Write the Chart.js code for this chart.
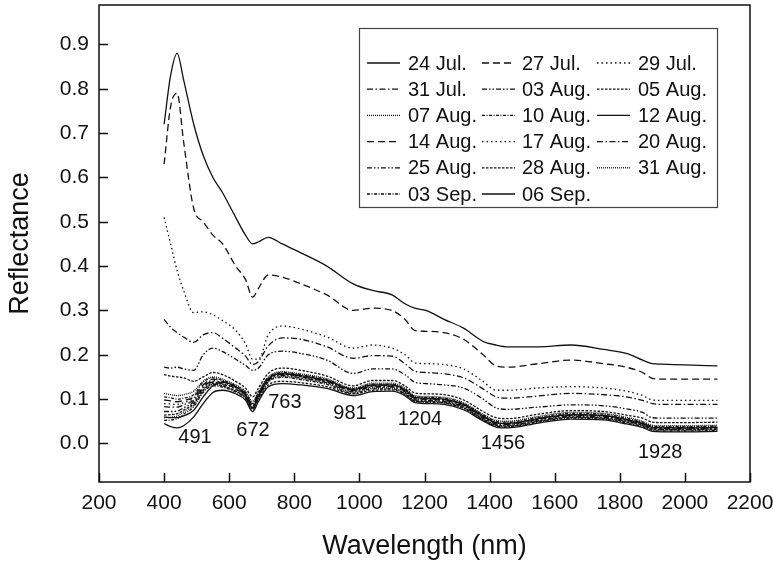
<!DOCTYPE html>
<html><head><meta charset="utf-8">
<script src="https://cdn.jsdelivr.net/npm/chart.js@4.4.0/dist/chart.umd.min.js"></script>
<style>html,body{margin:0;padding:0;background:#fff;}</style>
</head><body>
<canvas id="c" width="773" height="564"></canvas>
<script>
// ---------- DATA ----------
const wavelengths = [400, 420, 440, 460, 491, 520, 550, 580, 620, 650, 672, 690, 720, 763, 820, 900, 981, 1040, 1100, 1140, 1170, 1204, 1260, 1320, 1380, 1420, 1456, 1550, 1650, 1750, 1820, 1870, 1900, 1928, 2000, 2100];

const seriesLabels = ['24 Jul.', '27 Jul.', '29 Jul.', '31 Jul.', '03 Aug.', '05 Aug.', '07 Aug.', '10 Aug.', '12 Aug.', '14 Aug.', '17 Aug.', '20 Aug.', '25 Aug.', '28 Aug.', '31 Aug.', '03 Sep.', '06 Sep.'];

const r24Jul = [0.72, 0.83, 0.88, 0.82, 0.72, 0.65, 0.60, 0.565, 0.51, 0.47, 0.45, 0.455, 0.465, 0.45, 0.43, 0.40, 0.36, 0.345, 0.335, 0.315, 0.305, 0.30, 0.28, 0.26, 0.23, 0.222, 0.218, 0.218, 0.222, 0.212, 0.203, 0.188, 0.18, 0.179, 0.177, 0.175];
const r27Jul = [0.63, 0.76, 0.79, 0.68, 0.53, 0.50, 0.47, 0.45, 0.40, 0.37, 0.33, 0.35, 0.38, 0.375, 0.36, 0.335, 0.30, 0.305, 0.30, 0.28, 0.255, 0.253, 0.25, 0.235, 0.20, 0.175, 0.172, 0.18, 0.188, 0.18, 0.172, 0.16, 0.147, 0.145, 0.145, 0.145];
const r29Jul = [0.51, 0.45, 0.39, 0.345, 0.295, 0.297, 0.29, 0.277, 0.255, 0.225, 0.19, 0.19, 0.245, 0.265, 0.258, 0.24, 0.215, 0.222, 0.215, 0.20, 0.182, 0.18, 0.178, 0.168, 0.14, 0.12, 0.12, 0.125, 0.128, 0.125, 0.118, 0.108, 0.098, 0.097, 0.097, 0.097];
const r31Jul = [0.28, 0.262, 0.25, 0.24, 0.228, 0.245, 0.25, 0.237, 0.215, 0.197, 0.178, 0.185, 0.22, 0.238, 0.235, 0.218, 0.192, 0.198, 0.197, 0.18, 0.163, 0.16, 0.157, 0.148, 0.123, 0.105, 0.102, 0.107, 0.113, 0.11, 0.105, 0.097, 0.09, 0.088, 0.088, 0.088];
const r03Aug = [0.172, 0.17, 0.172, 0.168, 0.165, 0.20, 0.215, 0.207, 0.19, 0.176, 0.165, 0.17, 0.20, 0.208, 0.203, 0.188, 0.158, 0.168, 0.168, 0.155, 0.138, 0.135, 0.132, 0.125, 0.10, 0.08, 0.077, 0.082, 0.087, 0.085, 0.078, 0.07, 0.058, 0.057, 0.057, 0.057];
const r05Aug = [0.155, 0.152, 0.150, 0.148, 0.140, 0.150, 0.160, 0.155, 0.140, 0.125, 0.105, 0.125, 0.158, 0.170, 0.165, 0.152, 0.130, 0.142, 0.142, 0.130, 0.114, 0.112, 0.110, 0.098, 0.072, 0.058, 0.056, 0.066, 0.074, 0.072, 0.064, 0.057, 0.048, 0.047, 0.047, 0.048];
const r07Aug = [0.113, 0.110, 0.108, 0.110, 0.118, 0.140, 0.150, 0.145, 0.132, 0.118, 0.095, 0.118, 0.150, 0.162, 0.157, 0.146, 0.125, 0.136, 0.136, 0.125, 0.108, 0.106, 0.104, 0.092, 0.066, 0.052, 0.050, 0.061, 0.070, 0.068, 0.059, 0.050, 0.041, 0.040, 0.040, 0.041];
const r10Aug = [0.105, 0.103, 0.100, 0.102, 0.110, 0.138, 0.148, 0.142, 0.130, 0.115, 0.090, 0.115, 0.148, 0.160, 0.155, 0.144, 0.123, 0.134, 0.134, 0.123, 0.106, 0.104, 0.102, 0.090, 0.064, 0.050, 0.048, 0.059, 0.068, 0.066, 0.057, 0.048, 0.039, 0.038, 0.038, 0.039];
const r12Aug = [0.060, 0.058, 0.058, 0.062, 0.075, 0.105, 0.130, 0.138, 0.128, 0.110, 0.080, 0.108, 0.145, 0.158, 0.153, 0.142, 0.122, 0.132, 0.132, 0.121, 0.104, 0.102, 0.100, 0.088, 0.062, 0.047, 0.045, 0.056, 0.065, 0.063, 0.054, 0.045, 0.036, 0.035, 0.035, 0.036];
const r14Aug = [0.098, 0.096, 0.094, 0.097, 0.105, 0.132, 0.145, 0.140, 0.128, 0.113, 0.088, 0.112, 0.146, 0.157, 0.152, 0.141, 0.121, 0.131, 0.131, 0.120, 0.103, 0.101, 0.099, 0.087, 0.061, 0.047, 0.045, 0.056, 0.065, 0.063, 0.054, 0.046, 0.037, 0.036, 0.036, 0.037];
const r17Aug = [0.090, 0.089, 0.088, 0.092, 0.102, 0.130, 0.142, 0.137, 0.126, 0.111, 0.086, 0.110, 0.145, 0.156, 0.151, 0.140, 0.120, 0.130, 0.130, 0.119, 0.102, 0.100, 0.098, 0.086, 0.060, 0.046, 0.044, 0.055, 0.064, 0.062, 0.053, 0.045, 0.036, 0.035, 0.035, 0.036];
const r20Aug = [0.083, 0.082, 0.082, 0.087, 0.098, 0.127, 0.140, 0.135, 0.124, 0.109, 0.084, 0.108, 0.144, 0.155, 0.150, 0.139, 0.119, 0.129, 0.129, 0.118, 0.101, 0.099, 0.097, 0.085, 0.059, 0.045, 0.043, 0.054, 0.063, 0.061, 0.052, 0.044, 0.035, 0.034, 0.034, 0.035];
const r25Aug = [0.072, 0.072, 0.073, 0.080, 0.094, 0.124, 0.138, 0.133, 0.122, 0.107, 0.082, 0.106, 0.142, 0.153, 0.148, 0.137, 0.117, 0.127, 0.127, 0.116, 0.099, 0.097, 0.095, 0.083, 0.057, 0.043, 0.041, 0.052, 0.061, 0.059, 0.050, 0.042, 0.033, 0.032, 0.032, 0.033];
const r28Aug = [0.064, 0.065, 0.067, 0.075, 0.090, 0.120, 0.135, 0.130, 0.118, 0.104, 0.080, 0.100, 0.132, 0.140, 0.137, 0.128, 0.112, 0.120, 0.121, 0.111, 0.096, 0.094, 0.092, 0.080, 0.055, 0.041, 0.039, 0.050, 0.059, 0.057, 0.049, 0.041, 0.032, 0.031, 0.031, 0.032];
const r31Aug = [0.058, 0.059, 0.062, 0.071, 0.087, 0.118, 0.133, 0.129, 0.118, 0.104, 0.079, 0.104, 0.140, 0.151, 0.146, 0.135, 0.115, 0.125, 0.125, 0.114, 0.097, 0.095, 0.093, 0.081, 0.055, 0.041, 0.039, 0.050, 0.059, 0.057, 0.048, 0.040, 0.031, 0.030, 0.030, 0.031];
const r03Sep = [0.052, 0.053, 0.056, 0.066, 0.083, 0.115, 0.130, 0.127, 0.116, 0.102, 0.077, 0.102, 0.138, 0.149, 0.144, 0.133, 0.113, 0.123, 0.123, 0.112, 0.095, 0.093, 0.091, 0.079, 0.053, 0.039, 0.037, 0.048, 0.057, 0.055, 0.046, 0.038, 0.029, 0.028, 0.028, 0.029];
const r06Sep = [0.045, 0.038, 0.035, 0.040, 0.060, 0.090, 0.115, 0.120, 0.112, 0.098, 0.072, 0.095, 0.128, 0.135, 0.132, 0.124, 0.108, 0.117, 0.118, 0.108, 0.092, 0.090, 0.088, 0.076, 0.051, 0.037, 0.035, 0.046, 0.055, 0.053, 0.044, 0.036, 0.027, 0.026, 0.026, 0.027];

const seriesValues = [r24Jul, r27Jul, r29Jul, r31Jul, r03Aug, r05Aug, r07Aug, r10Aug, r12Aug, r14Aug, r17Aug, r20Aug, r25Aug, r28Aug, r31Aug, r03Sep, r06Sep];

const xTickValues = [200, 400, 600, 800, 1000, 1200, 1400, 1600, 1800, 2000, 2200];
const yTickValues = [0.0, 0.1, 0.2, 0.3, 0.4, 0.5, 0.6, 0.7, 0.8, 0.9];

const bandLabels = ['491', '672', '763', '981', '1204', '1456', '1928'];
const bandLabelWl = [495, 673, 771, 971, 1186, 1441, 1924];
const bandLabelRefl = [0.014, 0.03, 0.093, 0.068, 0.053, 0.0, -0.02];

// ---------- STYLE ----------
const FONT = '"Liberation Sans", Arial, Helvetica, sans-serif';
const dashStyles = [[], [7, 4], [1.5, 3], [6, 2.5, 1.5, 2.5], [5, 2, 1.5, 2, 1.5, 2], [2.5, 1.5], [1, 1], [3, 1.5, 1, 1.5]];

const datasets = seriesValues.map((vals, i) => ({
  label: seriesLabels[i],
  data: wavelengths.map((w, j) => ({x: w, y: vals[j]})),
  borderColor: '#111',
  borderWidth: 1.3,
  borderDash: dashStyles[i % dashStyles.length],
  pointRadius: 0,
  fill: false,
  cubicInterpolationMode: 'monotone'
}));

const zeroPad = s => { s.paddingLeft = 0; s.paddingRight = 0; s.paddingTop = 0; s.paddingBottom = 0; };

const framePlugin = {
  id: 'frame',
  afterDraw(chart) {
    const {ctx, chartArea: a, scales} = chart;
    ctx.save();
    ctx.strokeStyle = '#111';
    ctx.lineWidth = 1.5;
    ctx.setLineDash([]);
    ctx.strokeRect(a.left, a.top, a.right - a.left, a.bottom - a.top);
    const tl = 9;
    ctx.beginPath();
    xTickValues.forEach(v => {
      const px = Math.round(scales.x.getPixelForValue(v)) + 0.5;
      ctx.moveTo(px, a.bottom); ctx.lineTo(px, a.bottom - tl);
    });
    yTickValues.forEach(v => {
      const py = Math.round(scales.y.getPixelForValue(v)) + 0.5;
      ctx.moveTo(a.left, py); ctx.lineTo(a.left + tl, py);
    });
    ctx.stroke();
    // band annotations
    ctx.fillStyle = '#111';
    ctx.font = '20px ' + FONT;
    ctx.textAlign = 'center';
    ctx.textBaseline = 'middle';
    bandLabels.forEach((t, i) => {
      ctx.fillText(t, scales.x.getPixelForValue(bandLabelWl[i]), scales.y.getPixelForValue(bandLabelRefl[i]));
    });
    // boxed legend
    const bx = 359, by = 28, bw = 358, bh = 179;
    ctx.fillStyle = '#fff';
    ctx.fillRect(bx, by, bw, bh);
    ctx.strokeStyle = '#444';
    ctx.lineWidth = 1.2;
    ctx.strokeRect(bx + 0.5, by + 0.5, bw, bh);
    const colLine = [367, 482, 597], colText = [408, 522, 638];
    const row0 = 63, rowH = 26.2, lineLen = 33;
    ctx.textAlign = 'left';
    ctx.fillStyle = '#111';
    chart.data.datasets.forEach((ds, i) => {
      const r = Math.floor(i / 3), c = i % 3;
      const y = row0 + r * rowH;
      ctx.save();
      ctx.strokeStyle = '#111';
      ctx.lineWidth = 1.3;
      ctx.setLineDash(ds.borderDash);
      ctx.beginPath();
      ctx.moveTo(colLine[c], y); ctx.lineTo(colLine[c] + lineLen, y);
      ctx.stroke();
      ctx.restore();
      ctx.fillText(ds.label, colText[c], y + 1);
    });
    ctx.restore();
  }
};

new Chart(document.getElementById('c'), {
  type: 'line',
  data: {datasets},
  options: {
    responsive: false,
    animation: false,
    devicePixelRatio: 1,
    layout: {padding: {left: 0, right: 23, top: 5, bottom: 0}},
    plugins: {legend: {display: false}, tooltip: {enabled: false}},
    scales: {
      x: {
        type: 'linear', min: 200, max: 2200,
        afterBuildTicks: s => { s.ticks = xTickValues.map(v => ({value: v})); },
        afterFit: s => { s.height = 82; zeroPad(s); },
        grid: {display: false, drawTicks: false},
        border: {display: false},
        ticks: {color: '#111', font: {family: FONT, size: 21}, padding: 9, maxRotation: 0, autoSkip: false, callback: v => String(v)},
        title: {display: true, text: 'Wavelength (nm)', color: '#111', font: {family: FONT, size: 27}, padding: {top: 0, bottom: 1}}
      },
      y: {
        type: 'linear', min: -0.087, max: 0.989,
        afterBuildTicks: s => { s.ticks = yTickValues.map(v => ({value: v})); },
        afterFit: s => { s.width = 99; zeroPad(s); },
        grid: {display: false, drawTicks: false},
        border: {display: false},
        ticks: {color: '#111', font: {family: FONT, size: 21}, padding: 10, callback: v => Number(v).toFixed(1)},
        title: {display: true, text: 'Reflectance', color: '#111', font: {family: FONT, size: 27}, padding: {top: 4, bottom: 0}}
      }
    }
  },
  plugins: [framePlugin]
});
</script>
</body></html>
